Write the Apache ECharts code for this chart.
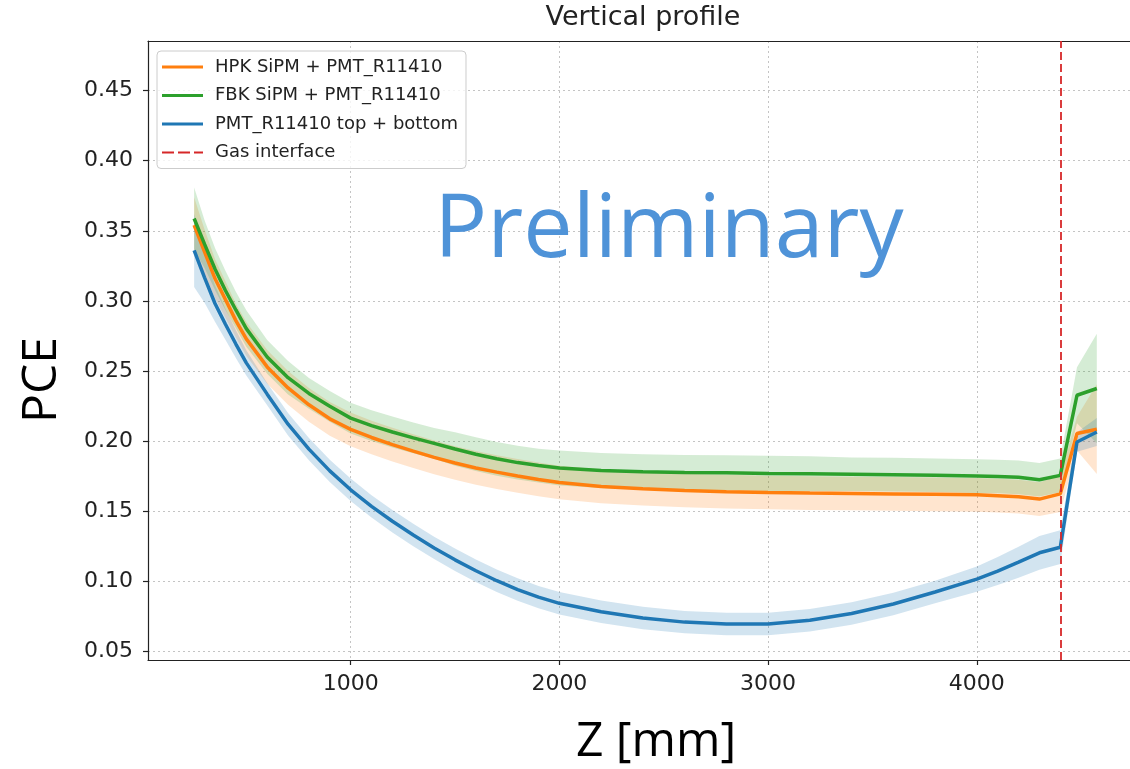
<!DOCTYPE html>
<html>
<head>
<meta charset="utf-8">
<title>Vertical profile</title>
<script src="https://cdn.jsdelivr.net/npm/echarts@6/dist/echarts.min.js"></script>
<style>
    html, body { margin: 0; padding: 0; background: #fff; }
    #chart { width: 1130px; height: 769px; }
</style>
</head>
<body>
<div id="chart"></div>
<script>
// Z positions along the detector [mm]
const zPos = [250, 300, 350, 400, 450, 500, 600, 700, 800, 900, 1000, 1100, 1200, 1300, 1400, 1500, 1600, 1700, 1800, 1900,
    2000, 2200, 2400, 2600, 2800, 3000, 3200, 3400, 3600, 3800, 4000, 4100, 4200, 4300, 4400, 4480, 4575];

// HPK SiPM + PMT_R11410
const hpkPce = [0.354, 0.335, 0.316, 0.301, 0.286, 0.273, 0.253, 0.238, 0.226, 0.216, 0.2085, 0.2027, 0.1976, 0.193, 0.1885, 0.1845, 0.181, 0.178, 0.1753, 0.1728,
    0.1706, 0.1678, 0.1662, 0.1649, 0.1641, 0.1635, 0.1631, 0.1628, 0.1625, 0.1622, 0.1618, 0.1612, 0.1605, 0.1588, 0.1625, 0.2055, 0.2086];
const hpkErr = [0.02, 0.016, 0.014, 0.013, 0.012, 0.012, 0.012, 0.012, 0.012, 0.012, 0.012, 0.012, 0.012, 0.012, 0.012, 0.012, 0.012, 0.012, 0.012, 0.012,
    0.012, 0.012, 0.012, 0.012, 0.012, 0.012, 0.012, 0.012, 0.012, 0.012, 0.012, 0.012, 0.012, 0.012, 0.013, 0.012, 0.032];

// FBK SiPM + PMT_R11410
const fbkPce = [0.3588, 0.3405, 0.3228, 0.3075, 0.2936, 0.2803, 0.2601, 0.2453, 0.2341, 0.2249, 0.2165, 0.2112, 0.2066, 0.2024, 0.1985, 0.1945, 0.1908, 0.1875, 0.1848, 0.1827,
    0.181, 0.1792, 0.1782, 0.1778, 0.1775, 0.1771, 0.1768, 0.1765, 0.1762, 0.1758, 0.1752, 0.1749, 0.1743, 0.1726, 0.1757, 0.2328, 0.2376];
const fbkErr = [0.022, 0.017, 0.015, 0.014, 0.013, 0.013, 0.012, 0.012, 0.011, 0.011, 0.011, 0.011, 0.011, 0.011, 0.011, 0.012, 0.012, 0.012, 0.012, 0.012,
    0.0125, 0.0125, 0.0125, 0.0125, 0.0125, 0.0125, 0.0125, 0.012, 0.012, 0.012, 0.012, 0.012, 0.012, 0.012, 0.012, 0.02, 0.039];

// PMT_R11410 top + bottom
const pmtPce = [0.336, 0.3167, 0.2982, 0.2834, 0.2693, 0.2559, 0.2336, 0.2122, 0.1944, 0.1789, 0.1654, 0.1536, 0.143, 0.1332, 0.124, 0.1155, 0.1077, 0.1006, 0.0943, 0.0889,
    0.0845, 0.0785, 0.074, 0.0711, 0.0697, 0.0698, 0.0724, 0.0773, 0.084, 0.0926, 0.1017, 0.1075, 0.1138, 0.1205, 0.1245, 0.1995, 0.2066];
const pmtErr = [0.026, 0.018, 0.013, 0.011, 0.01, 0.009, 0.008, 0.008, 0.008, 0.008, 0.008, 0.008, 0.008, 0.008, 0.008, 0.008, 0.008, 0.008, 0.008, 0.008,
    0.008, 0.008, 0.008, 0.008, 0.008, 0.008, 0.008, 0.008, 0.008, 0.008, 0.009, 0.01, 0.011, 0.012, 0.012, 0.007, 0.01];

const gasZ = 4400;
const xTicks = [1000, 2000, 3000, 4000];
const yTicks = [0.05, 0.10, 0.15, 0.20, 0.25, 0.30, 0.35, 0.40, 0.45];

const names = {
    hpk: 'HPK SiPM + PMT_R11410',
    fbk: 'FBK SiPM + PMT_R11410',
    pmt: 'PMT_R11410 top + bottom',
    gas: 'Gas interface'
};
const colors = { hpk: '#ff7f0e', fbk: '#2ca02c', pmt: '#1f77b4', gas: '#d62728' };

const mplFont = 'DejaVu Sans';
const ink = '#222222';
const xMin = 29, xMax = 4734;
const yMin = 0.0441, yMax = 0.4853;

// error band (value +- err) as one polygon, placed through the axes
function band(key, vals, errs) {
    const data = zPos.map((z, i) => [z, vals[i] - errs[i], vals[i] + errs[i]]);
    return {
        name: key + '_band',
        type: 'custom',
        silent: true,
        z: 1,
        encode: { x: 0, y: [1, 2] },
        data,
        renderItem: (params, api) => {
            if (params.dataIndex !== 0) return;
            const upper = data.map(d => api.coord([d[0], d[2]]));
            const lower = data.map(d => api.coord([d[0], d[1]])).reverse();
            return {
                type: 'polygon',
                shape: { points: upper.concat(lower) },
                style: { fill: colors[key], opacity: 0.2 }
            };
        }
    };
}

function line(key, vals) {
    return {
        name: names[key],
        type: 'line',
        symbol: 'none',
        z: 3,
        color: colors[key],
        lineStyle: { color: colors[key], width: 3.5 },
        data: zPos.map((z, i) => [z, vals[i]])
    };
}

const gridLine = { show: true, lineStyle: { color: '#c4c4c4', width: 1, type: [2, 3] } };
const spine = { show: true, lineStyle: { color: ink, width: 1.2 } };
const tickFont = { fontFamily: mplFont, fontSize: 22, color: ink };

const chart = echarts.init(document.getElementById('chart'));
chart.setOption({
    animation: false,
    backgroundColor: '#ffffff',
    grid: { left: 148, right: 0, top: 41, bottom: 109 },
    xAxis: [{
        type: 'value',
        min: xMin,
        max: xMax,
        axisLine: spine,
        splitLine: gridLine,
        axisTick: { show: true, length: 5, lineStyle: { color: ink, width: 1.2 }, customValues: xTicks },
        axisLabel: { ...tickFont, customValues: xTicks, margin: 13, formatter: v => String(v) }
    }, {
        // top spine only
        type: 'value',
        position: 'top',
        min: xMin,
        max: xMax,
        axisLine: spine,
        axisTick: { show: false },
        axisLabel: { show: false },
        splitLine: { show: false }
    }],
    yAxis: {
        type: 'value',
        min: yMin,
        max: yMax,
        axisLine: spine,
        splitLine: gridLine,
        axisTick: { show: true, length: 5, lineStyle: { color: ink, width: 1.2 }, customValues: yTicks },
        axisLabel: { ...tickFont, customValues: yTicks, margin: 15, formatter: v => v.toFixed(2) }
    },
    legend: {
        orient: 'vertical',
        left: 157,
        top: 51,
        itemWidth: 41,
        itemHeight: 3,
        itemGap: 10.5,
        padding: [7, 8, 7, 5],
        backgroundColor: 'rgba(255,255,255,0.8)',
        borderColor: '#cccccc',
        borderWidth: 1,
        borderRadius: 4,
        itemStyle: { borderWidth: 0 },
        textStyle: { fontFamily: mplFont, fontSize: 18, color: ink, padding: [0, 0, 0, 7] },
        data: [
            { name: names.hpk, icon: 'rect' },
            { name: names.fbk, icon: 'rect' },
            { name: names.pmt, icon: 'rect' },
            { name: names.gas, icon: 'path://M0,0H12V2H0ZM16,0H28V2H16ZM32,0H41V2H32Z' }
        ]
    },
    graphic: [
        {
            type: 'text', x: 643, y: 18,
            style: { text: 'Vertical profile', font: '27px "DejaVu Sans"', fill: ink, textAlign: 'center', textVerticalAlign: 'middle' }
        },
        {
            type: 'text', x: 669, y: 232, z: 10,
            style: { text: 'Preliminary', font: '88px "Open Sans"', fill: '#4f93d8', textAlign: 'center', textVerticalAlign: 'middle' }
        },
        {
            type: 'text', x: 42, y: 380, rotation: Math.PI / 2,
            style: { text: 'PCE', font: '48px "Open Sans"', fill: '#000', textAlign: 'center', textVerticalAlign: 'middle' }
        },
        {
            type: 'text', x: 656, y: 742,
            style: { text: 'Z [mm]', font: '48px "Open Sans"', fill: '#000', textAlign: 'center', textVerticalAlign: 'middle' }
        }
    ],
    series: [
        band('hpk', hpkPce, hpkErr),
        band('fbk', fbkPce, fbkErr),
        band('pmt', pmtPce, pmtErr),
        line('hpk', hpkPce),
        line('fbk', fbkPce),
        line('pmt', pmtPce),
        {
            name: names.gas,
            type: 'line',
            color: colors.gas,
            lineStyle: { color: colors.gas, width: 2, type: [8, 4] },
            symbol: 'none',
            data: [],
            markLine: {
                silent: true,
                symbol: 'none',
                z: 4,
                label: { show: false },
                lineStyle: { color: colors.gas, width: 2, type: [8, 4], opacity: 0.9 },
                data: [{ xAxis: gasZ }]
            }
        }
    ]
});
</script>
</body>
</html>
